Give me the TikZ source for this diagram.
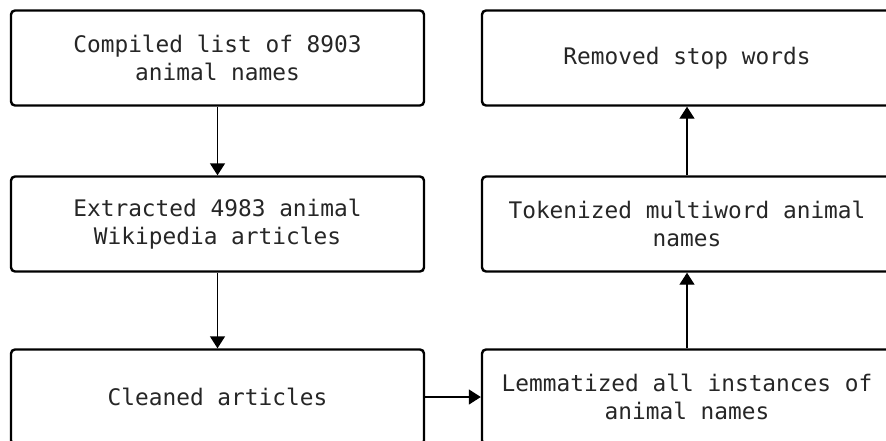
\documentclass[tikz,border=0pt]{standalone}
\usepackage{fontspec}
\setmainfont{DejaVu Sans Mono}
\usetikzlibrary{arrows.meta}
\tikzset{
  stage/.style={draw=black, line width=2.4pt, rounded corners=4pt, fill=white,
    minimum height=95pt, align=center, text=black!85,
    font=\fontsize{22.8}{28}\selectfont, inner sep=0pt},
  leftstage/.style={stage, minimum width=413pt},
  rightstage/.style={stage, minimum width=410pt},
  flow/.style={line width=1.4pt, -{Triangle[length=12pt,width=15pt]}}
}
\begin{document}
\begin{tikzpicture}[x=1pt,y=-1pt]
  \useasboundingbox (0,0) rectangle (886,440);
  \clip (0,0) rectangle (886,440);
  \fill[white] (0,0) rectangle (886,440);
  % left column
  \node[leftstage] (compile) at (217.5,58) {Compiled list of 8903\\animal names};
  \node[leftstage] (extract) at (217.5,224) {Extracted 4983 animal\\Wikipedia articles};
  \node[leftstage] (clean) at (217.5,397) {Cleaned articles};
  % right column
  \node[rightstage] (stop) at (687,58) {Removed stop words};
  \node[rightstage] (token) at (687,224) {Tokenized multiword animal\\names};
  \node[rightstage] (lemma) at (687,397) {Lemmatized all instances of\\animal names};
  % connectors
  \draw[flow] (compile) -- (extract);
  \draw[flow] (extract) -- (clean);
  \draw[flow] (clean) -- (lemma);
  \draw[flow] (lemma) -- (token);
  \draw[flow] (token) -- (stop);
\end{tikzpicture}
\end{document}
